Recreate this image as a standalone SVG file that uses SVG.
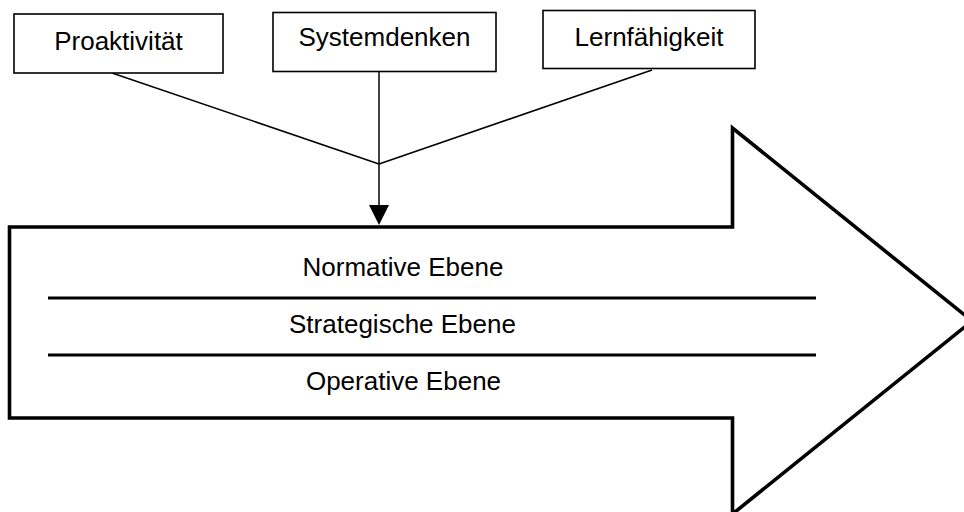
<svg xmlns="http://www.w3.org/2000/svg" width="964" height="512" viewBox="0 0 964 512">
<style>
.box{fill:#fff;stroke:#000;stroke-width:1.6}
.lbl{font-family:"Liberation Sans",Arial,sans-serif;font-size:26px;fill:#000;text-anchor:middle}
.con{fill:none;stroke:#000;stroke-width:1.5}
.sep{stroke:#000;stroke-width:3.2}
</style>
<rect width="964" height="512" fill="#fff"/>
<g id="big-arrow">
<path d="M9.5,227 L732.5,227 L732.5,128 L972,321 L732.5,514 L732.5,418 L9.5,418 Z" fill="#fff" stroke="#000" stroke-width="3.6" stroke-linejoin="miter"/>
<line class="sep" x1="48" y1="298" x2="816" y2="298"/>
<line class="sep" x1="48" y1="355" x2="816" y2="355"/>
<text class="lbl" x="403" y="276">Normative Ebene</text>
<text class="lbl" x="402.5" y="333">Strategische Ebene</text>
<text class="lbl" x="403.5" y="390">Operative Ebene</text>
</g>
<g id="connectors">
<line class="con" x1="112" y1="73" x2="379" y2="164"/>
<line class="con" x1="652" y1="70" x2="379" y2="164"/>
<line class="con" x1="379" y1="72" x2="379" y2="206"/>
<path d="M369,205 L389,205 L379,225 Z" fill="#000"/>
</g>
<g id="node-proaktivitaet">
<rect class="box" x="14" y="14" width="209" height="59"/>
<text class="lbl" x="118.5" y="49.5">Proaktivität</text>
</g>
<g id="node-systemdenken">
<rect class="box" x="273" y="12.5" width="223" height="59"/>
<text class="lbl" x="384.5" y="45.5">Systemdenken</text>
</g>
<g id="node-lernfaehigkeit">
<rect class="box" x="543" y="10.5" width="212" height="58"/>
<text class="lbl" x="649" y="46">Lernfähigkeit</text>
</g>
</svg>
